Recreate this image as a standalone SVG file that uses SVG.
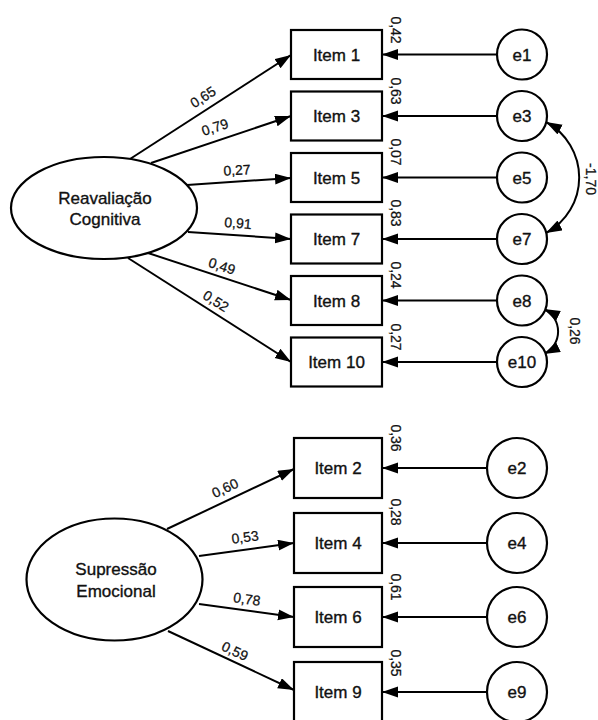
<svg xmlns="http://www.w3.org/2000/svg" width="598" height="720" viewBox="0 0 598 720">
<defs>
<marker id="ah" markerUnits="userSpaceOnUse" markerWidth="17" markerHeight="12" refX="16" refY="5.5" orient="auto-start-reverse">
<path d="M0,0 L16,5.5 L0,11 Z" fill="#000"/>
</marker>
<style>
.box{fill:#fff;stroke:#000;stroke-width:2.2}
.err{fill:#fff;stroke:#000;stroke-width:2.2}
.lat{fill:#fff;stroke:#000;stroke-width:2.2}
.lbl{font-family:"Liberation Sans",Arial,sans-serif;font-size:17px;fill:#111;stroke:#111;stroke-width:0.35;text-anchor:middle}
.coef{font-family:"Liberation Sans",Arial,sans-serif;font-size:14px;fill:#111;stroke:#111;stroke-width:0.25;text-anchor:middle}
.ln{stroke:#000;stroke-width:2;fill:none;marker-end:url(#ah)}
.cov{stroke:#000;stroke-width:2;fill:none;marker-end:url(#ah);marker-start:url(#ah)}
</style>
</defs>
<rect width="598" height="720" fill="#fff"/>

<g id="connectors">
<line class="ln" x1="130" y1="159" x2="291" y2="55"/>
<line class="ln" x1="151" y1="163" x2="291" y2="116"/>
<line class="ln" x1="187" y1="185" x2="291" y2="178"/>
<line class="ln" x1="188" y1="232" x2="291" y2="239"/>
<line class="ln" x1="148" y1="253" x2="291" y2="300"/>
<line class="ln" x1="128" y1="258" x2="291" y2="362"/>
<line class="ln" x1="167" y1="529" x2="294" y2="469"/>
<line class="ln" x1="199" y1="556" x2="294" y2="543"/>
<line class="ln" x1="199" y1="604" x2="294" y2="617"/>
<line class="ln" x1="168" y1="631" x2="294" y2="690"/>
<line class="ln" x1="497" y1="54.5" x2="382" y2="54.5"/>
<line class="ln" x1="497" y1="116" x2="382" y2="116"/>
<line class="ln" x1="497" y1="177.5" x2="382" y2="177.5"/>
<line class="ln" x1="497" y1="239" x2="382" y2="239"/>
<line class="ln" x1="497" y1="300.5" x2="382" y2="300.5"/>
<line class="ln" x1="497" y1="362" x2="382" y2="362"/>
<line class="ln" x1="487" y1="468" x2="382" y2="468"/>
<line class="ln" x1="487" y1="543" x2="382" y2="543"/>
<line class="ln" x1="487" y1="617" x2="382" y2="617"/>
<line class="ln" x1="487" y1="692" x2="382" y2="692"/>
<path class="cov" d="M546,122 A63,63 0 0 1 546,233"/>
<path class="cov" d="M544,309 A25,25 0 0 1 544,354"/>

<text class="coef" transform="translate(203,97) rotate(-33)" y="5">0,65</text>
<text class="coef" transform="translate(215,127) rotate(-18)" y="5">0,79</text>
<text class="coef" transform="translate(237,170) rotate(-3)" y="5">0,27</text>
<text class="coef" transform="translate(238,223) rotate(4.5)" y="5">0,91</text>
<text class="coef" transform="translate(222,266) rotate(18)" y="5">0,49</text>
<text class="coef" transform="translate(216,301) rotate(33)" y="5">0,52</text>
<text class="coef" transform="translate(225,488) rotate(-25)" y="5">0,60</text>
<text class="coef" transform="translate(245,537) rotate(-7.5)" y="5">0,53</text>
<text class="coef" transform="translate(247,599) rotate(8)" y="5">0,78</text>
<text class="coef" transform="translate(235,651) rotate(25)" y="5">0,59</text>
<text class="coef" transform="translate(396,30) rotate(90)" y="5">0,42</text>
<text class="coef" transform="translate(396,91) rotate(90)" y="5">0,63</text>
<text class="coef" transform="translate(396,152) rotate(90)" y="5">0,07</text>
<text class="coef" transform="translate(396,213) rotate(90)" y="5">0,83</text>
<text class="coef" transform="translate(396,275) rotate(90)" y="5">0,24</text>
<text class="coef" transform="translate(396,337) rotate(90)" y="5">0,27</text>
<text class="coef" transform="translate(396,438) rotate(90)" y="5">0,36</text>
<text class="coef" transform="translate(396,512) rotate(90)" y="5">0,28</text>
<text class="coef" transform="translate(396,587) rotate(90)" y="5">0,61</text>
<text class="coef" transform="translate(396,663) rotate(90)" y="5">0,35</text>
<text class="coef" transform="translate(591,179) rotate(90)" y="5">-1,70</text>
<text class="coef" transform="translate(575,331) rotate(90)" y="5">0,26</text>
</g>

<g id="reavaliacao">
<ellipse class="lat" cx="104" cy="208" rx="93" ry="51"/>
<text class="lbl" x="105" y="204">Reavaliação</text>
<text class="lbl" x="105" y="225">Cognitiva</text>
</g>
<g id="supressao">
<ellipse class="lat" cx="114.5" cy="579.5" rx="88" ry="61"/>
<text class="lbl" x="116" y="575">Supressão</text>
<text class="lbl" x="116" y="597">Emocional</text>
</g>

<g id="item1"><rect class="box" x="291" y="30" width="91" height="49"/><text class="lbl" x="336.5" y="60.5">Item 1</text></g>
<g id="item3"><rect class="box" x="291" y="91.5" width="91" height="49"/><text class="lbl" x="336.5" y="122">Item 3</text></g>
<g id="item5"><rect class="box" x="291" y="153" width="91" height="49"/><text class="lbl" x="336.5" y="183.5">Item 5</text></g>
<g id="item7"><rect class="box" x="291" y="214.5" width="91" height="49"/><text class="lbl" x="336.5" y="245">Item 7</text></g>
<g id="item8"><rect class="box" x="291" y="276" width="91" height="49"/><text class="lbl" x="336.5" y="306.5">Item 8</text></g>
<g id="item10"><rect class="box" x="291" y="337.5" width="91" height="49"/><text class="lbl" x="336.5" y="368">Item 10</text></g>

<g id="item2"><rect class="box" x="294" y="438" width="88" height="60"/><text class="lbl" x="338" y="474">Item 2</text></g>
<g id="item4"><rect class="box" x="294" y="513" width="88" height="60"/><text class="lbl" x="338" y="549">Item 4</text></g>
<g id="item6"><rect class="box" x="294" y="587" width="88" height="60"/><text class="lbl" x="338" y="623">Item 6</text></g>
<g id="item9"><rect class="box" x="294" y="662" width="88" height="62"/><text class="lbl" x="338" y="698">Item 9</text></g>

<g id="e1"><circle class="err" cx="522" cy="54.5" r="25"/><text class="lbl" x="522" y="60.5">e1</text></g>
<g id="e3"><circle class="err" cx="522" cy="116" r="25"/><text class="lbl" x="522" y="122">e3</text></g>
<g id="e5"><circle class="err" cx="522" cy="177.5" r="25"/><text class="lbl" x="522" y="183.5">e5</text></g>
<g id="e7"><circle class="err" cx="522" cy="239" r="25"/><text class="lbl" x="522" y="245">e7</text></g>
<g id="e8"><circle class="err" cx="522" cy="300.5" r="25"/><text class="lbl" x="522" y="306.5">e8</text></g>
<g id="e10"><circle class="err" cx="522" cy="362" r="25"/><text class="lbl" x="522" y="368">e10</text></g>

<g id="e2"><circle class="err" cx="517" cy="468" r="30"/><text class="lbl" x="517" y="474">e2</text></g>
<g id="e4"><circle class="err" cx="517" cy="543" r="30"/><text class="lbl" x="517" y="549">e4</text></g>
<g id="e6"><circle class="err" cx="517" cy="617" r="30"/><text class="lbl" x="517" y="623">e6</text></g>
<g id="e9"><circle class="err" cx="517" cy="692" r="30"/><text class="lbl" x="517" y="698">e9</text></g>
</svg>
